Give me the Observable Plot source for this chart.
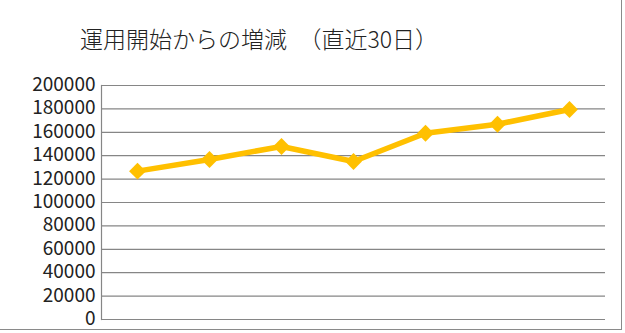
<!DOCTYPE html>
<html>
<head>
<meta charset="utf-8">
<script src="https://cdn.jsdelivr.net/npm/d3@7"></script>
<script src="https://cdn.jsdelivr.net/npm/@observablehq/plot@0.6"></script>
<style>
  html, body { margin: 0; padding: 0; background: #fff; }
  #wrap { position: relative; width: 625px; height: 333px; overflow: hidden; background: #fff; }
  #title { position: absolute; left: 80px; top: 23px; font-family: "Noto Sans CJK JP", sans-serif; font-weight: 300; font-size: 23px; line-height: 30px; color: #222; white-space: pre; }
  #chart { position: absolute; left: 0; top: 0; }
  #border { position: absolute; left: -2px; top: -2px; width: 624px; height: 332px; border-right: 1.5px solid #8a8a8a; border-bottom: 1.5px solid #8a8a8a; box-sizing: border-box; pointer-events: none; }
</style>
</head>
<body>
<div id="wrap">
  <div id="chart"></div>
  <div id="title"></div>
  <div id="border"></div>
</div>
<script>
const title = "運用開始からの増減　（直近30日）";
const categories = ["1", "2", "3", "4", "5", "6", "7"];
const values = [126800, 136800, 147900, 135000, 159200, 166900, 179500];
const yTicks = [0, 20000, 40000, 60000, 80000, 100000, 120000, 140000, 160000, 180000, 200000];

const data = categories.map((c, i) => ({ cat: c, value: values[i] }));

document.getElementById("title").textContent = title;

const chart = Plot.plot({
  width: 625,
  height: 333,
  marginLeft: 101,
  marginRight: 20,
  marginTop: 85,
  marginBottom: 14,
  style: { fontFamily: "'Noto Sans CJK JP', sans-serif", fontSize: "19px", color: "#222", background: "transparent" },
  x: { type: "point", domain: categories, padding: 0.5, axis: null },
  y: { domain: [0, 200000], axis: null },
  marks: [
    Plot.gridY(yTicks, { stroke: "#868686", strokeOpacity: 1, strokeWidth: 1.2 }),
    Plot.frame({ anchor: "left", stroke: "#868686", strokeWidth: 1.2 }),
    Plot.axisY(yTicks, { label: null, tickSize: 0, tickPadding: 6, tickFormat: d => String(d), fill: "#222", fontSize: 19, lineHeight: 0.9 }),
    Plot.line(data, { x: "cat", y: "value", stroke: "#FFC000", strokeWidth: 5.5, curve: "linear" }),
    Plot.dot(data, { x: "cat", y: "value", symbol: "diamond2", r: 7.6, fill: "#FFC000", stroke: "none" })
  ]
});
document.getElementById("chart").appendChild(chart);
</script>
</body>
</html>
